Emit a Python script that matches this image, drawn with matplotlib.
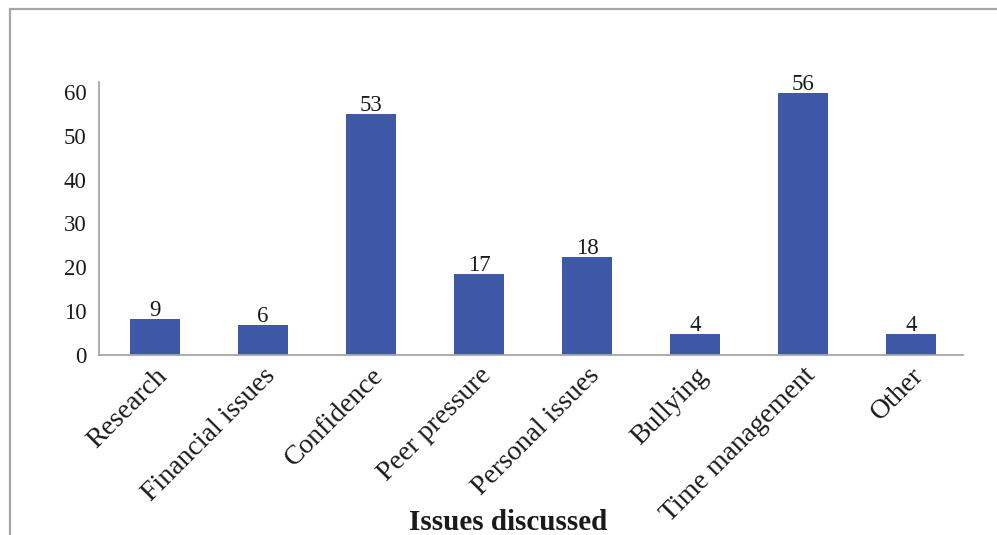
import matplotlib
matplotlib.use("Agg")
import matplotlib.pyplot as plt
import numpy as np
from matplotlib.patches import Rectangle

plt.rcParams['font.family'] = ['Liberation Serif', 'DejaVu Serif']

# data
issues = ["Research", "Financial issues", "Confidence", "Peer pressure",
          "Personal issues", "Bullying", "Time management", "Other"]
bar_heights = [8.2, 6.8, 54.9, 18.5, 22.3, 4.8, 59.7, 4.8]
bar_labels = ["9", "6", "53", "17", "18", "4", "56", "4"]
y_ticks = [0, 10, 20, 30, 40, 50, 60]

bar_color = '#3C58A7'
grey = '#A6A6A6'
text_color = '#1a1a1a'

fig = plt.figure(figsize=(9.97, 5.35), dpi=100)

# outer frame (cut off at right and bottom in the original)
frame = Rectangle((10 / 997, -0.05), 1.2, (535 - 9) / 535 + 0.05,
                  transform=fig.transFigure, fill=False,
                  edgecolor=grey, linewidth=1.6)
fig.patches.append(frame)

ax = fig.add_axes([99 / 997, 180 / 535, (963 - 99) / 997, (355 - 81.7) / 535])

x = np.arange(len(issues))
width = 0.463
bars = ax.bar(x, bar_heights, width=width, color=bar_color, zorder=2)

for b, lab in zip(bars, bar_labels):
    ax.annotate(lab, (b.get_x() + b.get_width() / 2, b.get_height()),
                xytext=(0, 2), textcoords='offset points',
                ha='center', va='baseline', fontsize=16.5, color=text_color)

ax.set_xlim(-0.52, 7.48)
ax.set_ylim(0, 62.3)
ax.set_yticks(y_ticks)
ax.set_xticks(x)
ax.set_xticklabels(issues, rotation=45, ha='right', rotation_mode='anchor',
                   fontsize=20, color=text_color)
ax.tick_params(axis='y', length=0, pad=9, labelsize=16.5, labelcolor=text_color)
ax.tick_params(axis='x', length=0, pad=6)

for s in ['top', 'right']:
    ax.spines[s].set_visible(False)
for s in ['left', 'bottom']:
    ax.spines[s].set_color(grey)
    ax.spines[s].set_linewidth(1.3)

ax.set_xlabel('Issues discussed', fontsize=21, fontweight='bold',
              color=text_color, va='baseline')
ax.xaxis.set_label_coords((508 - 99) / 864, (355 - 530) / 273.3)

fig.savefig('out.png', dpi=100)
